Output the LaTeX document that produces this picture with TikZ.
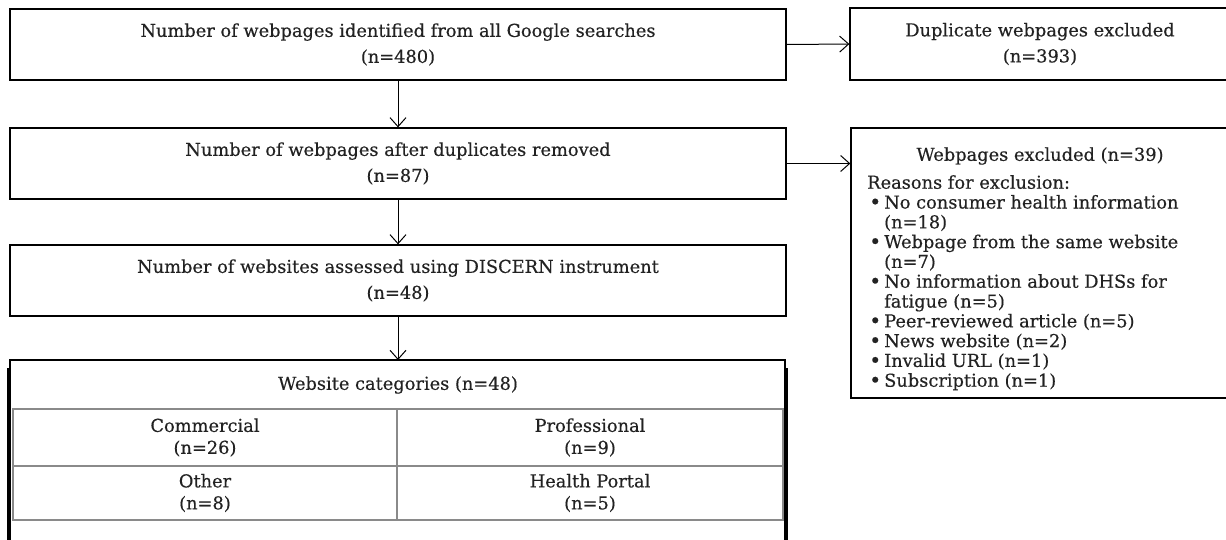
\documentclass[tikz,border=0pt]{standalone}
\usepackage{fontspec}
\setmainfont[FakeBold=0.4]{DejaVu Serif}
\usetikzlibrary{arrows.meta}
\definecolor{ink}{HTML}{222222}
\definecolor{grid}{HTML}{8A8A8A}
\newcommand{\itm}[1]{\makebox[17pt][l]{\hspace{2pt}\raisebox{-0.6pt}{\scalebox{1.15}{\textbullet}}}#1}
\newcommand{\cnt}[1]{\makebox[17pt][l]{}#1}
\begin{document}
\begin{tikzpicture}[x=1pt,y=-1pt,
  txt/.style={font=\fontsize{17.8}{26}\selectfont, text=ink},
  boxr/.style={draw=black, line width=1.3pt, inner sep=0pt},
  arr/.style={draw=black, line width=1pt, -{Straight Barb[length=9pt,width=16pt,line width=1pt]}},
  gridl/.style={draw=grid, line width=1.5pt}]
\useasboundingbox (0,0) rectangle (1226,539);
% boxes
\node[boxr, minimum width=776pt, minimum height=71pt] (b1) at (398,44.5) {};
\node[txt, align=center] (t1) at (b1.center) {Number of webpages identified from all Google searches\\(n=480)};
\node[boxr, minimum width=380pt, minimum height=72pt] (b2) at (1040,44) {};
\node[txt, align=center] (t2) at (b2.center) {Duplicate webpages excluded\\(n=393)};
\node[boxr, minimum width=776pt, minimum height=71pt] (b3) at (398,163.5) {};
\node[txt, align=center] (t3) at (b3.center) {Number of webpages after duplicates removed\\(n=87)};
\node[boxr, minimum width=379pt, minimum height=270pt] (ex) at (1040.5,263) {};
\node[txt] (ext) at (1040,156) {Webpages excluded (n=39)};
\node[txt, anchor=north west, align=left, inner sep=0pt, font=\fontsize{17.8}{19.8}\selectfont] (exl) at (867,175) {%
Reasons for exclusion:\\
\itm{No consumer health information}\\
\cnt{(n=18)}\\
\itm{Webpage from the same website}\\
\cnt{(n=7)}\\
\itm{No information about DHSs for}\\
\cnt{fatigue (n=5)}\\
\itm{Peer-reviewed article (n=5)}\\
\itm{News website (n=2)}\\
\itm{Invalid URL (n=1)}\\
\itm{Subscription (n=1)}};
\node[boxr, minimum width=776pt, minimum height=71pt] (b4) at (398,280.5) {};
\node[txt, align=center] (t4) at (b4.center) {Number of websites assessed using DISCERN instrument\\(n=48)};
% category box (open at bottom)
\coordinate (b5nw) at (10,360);
\coordinate (b5ne) at (785,360);
\coordinate (b5top) at (398,360);
\draw[black, line width=1.3pt] (10,550) -- (b5nw) -- (b5ne) -- (785,550);
\draw[black, line width=1.5pt] (8,368) -- (8,550);
\draw[black, line width=1.5pt] (787,368) -- (787,550);
\node[txt] (t5) at (398,385) {Website categories (n=48)};
% table
\draw[gridl] (13,409) rectangle (783,520);
\draw[gridl] (13,466) -- (783,466);
\draw[gridl] (397,409) -- (397,520);
\node[txt, align=center, font=\fontsize{17.8}{22}\selectfont] (c1) at (205,437.5) {Commercial\\(n=26)};
\node[txt, align=center, font=\fontsize{17.8}{22}\selectfont] (c2) at (590,437.5) {Professional\\(n=9)};
\node[txt, align=center, font=\fontsize{17.8}{22}\selectfont] (c3) at (205,493) {Other\\(n=8)};
\node[txt, align=center, font=\fontsize{17.8}{22}\selectfont] (c4) at (590,493) {Health Portal\\(n=5)};
% connectors
\draw[arr] (b1.east) -- (b2.west);
\draw[arr] (b3.east) -- (b3.east -| ex.west);
\draw[arr] (b1.south) -- (b3.north);
\draw[arr] (b3.south) -- (b4.north);
\draw[arr] (b4.south) -- (b5top);
\end{tikzpicture}
\end{document}
